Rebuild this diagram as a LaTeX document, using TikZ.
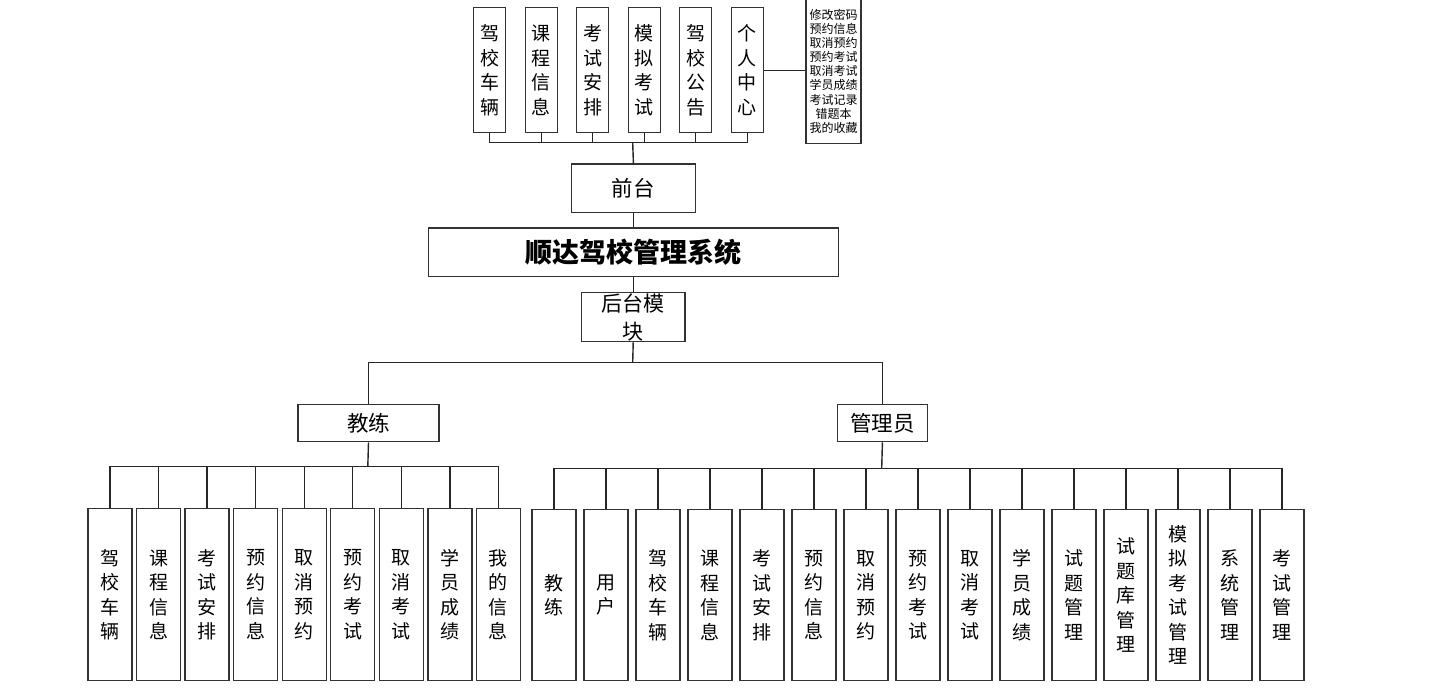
\documentclass[tikz,border=0pt]{standalone}
\usepackage{fontspec}
\newfontfamily\cjk{Noto Sans CJK SC}
\begin{document}
\begin{tikzpicture}[x=1pt,y=-1pt]
\tikzset{
  box/.style={draw=black!80, line width=1.4pt, inner sep=0pt, align=center, anchor=north west,
              font=\cjk\fontsize{19}{24.5}\selectfont},
  ln/.style={draw=black!85, line width=1.4pt}
}
\useasboundingbox (0,0) rectangle (1448,694);
% top row (front-end)
\foreach \t [count=\i from 0] in {{驾\\校\\车\\辆},{课\\程\\信\\息},{考\\试\\安\\排},{模\\拟\\考\\试},{驾\\校\\公\\告},{个\\人\\中\\心}}
  \node[box, minimum width=32pt, minimum height=125pt] (g\i) at ({473+51.5*\i},7) {\t};
\node[box, minimum width=55pt, minimum height=145pt, font=\cjk\fontsize{12}{14.1}\selectfont] (pc) at (805.3,-2)
  {修改密码\\预约信息\\取消预约\\预约考试\\取消考试\\学员成绩\\考试记录\\错题本\\我的收藏};
\node[box, minimum width=124pt, minimum height=48.7pt, font=\cjk\fontsize{21.5}{26}\selectfont] (front) at (570.7,163.3) {前台};
\node[box, minimum width=410pt, minimum height=48.7pt, font=\cjk\bfseries\fontsize{27}{32}\selectfont] (sys) at (428,227.3) {顺达驾校管理系统};
\node[box, minimum width=103.6pt, minimum height=49.3pt, font=\cjk\fontsize{21}{28}\selectfont] (ht) at (580.7,291.7) {后台模\\块};
\node[box, minimum width=141pt, minimum height=37pt, font=\cjk\fontsize{21.5}{26}\selectfont] (jl) at (297.3,404) {教练};
\node[box, minimum width=90pt, minimum height=37pt, font=\cjk\fontsize{21.5}{26}\selectfont] (gl) at (836.7,404) {管理员};
% coach children
\foreach \t [count=\i from 0] in {{驾\\校\\车\\辆},{课\\程\\信\\息},{考\\试\\安\\排},{预\\约\\信\\息},{取\\消\\预\\约},{预\\约\\考\\试},{取\\消\\考\\试},{学\\员\\成\\绩},{我\\的\\信\\息}}
  \node[box, minimum width=44pt, minimum height=172.3pt] (L\i) at ({87.3+48.55*\i},507.7) {\t};
% admin children
\foreach \t [count=\i from 0] in {{教\\练},{用\\户},{驾\\校\\车\\辆},{课\\程\\信\\息},{考\\试\\安\\排},{预\\约\\信\\息},{取\\消\\预\\约},{预\\约\\考\\试},{取\\消\\考\\试},{学\\员\\成\\绩},{试\\题\\管\\理},{试\\题\\库\\管\\理},{模\\拟\\考\\试\\管\\理},{系\\统\\管\\理},{考\\试\\管\\理}}
  \node[box, minimum width=44pt, minimum height=171pt] (R\i) at ({531.3+52*\i},509) {\t};
% connectors
\coordinate (bT) at (632.7,142.7);
\coordinate (bH) at (632.7,362.7);
\coordinate (bJ) at (367.8,466.7);
\coordinate (bG) at (881.7,468.3);
\foreach \i in {0,...,5} \draw[ln] (g\i.south) |- (bT);
\draw[ln] (bT) -- (front.north);
\draw[ln] (g5.east) -- (g5.east -| pc.west);
\draw[ln] (front.south) -- (sys.north -| front.south);
\draw[ln] (sys.south -| ht.north) -- (ht.north);
\draw[ln] (ht.south) -- (bH);
\draw[ln] (jl.north) |- (bH);
\draw[ln] (gl.north) |- (bH);
\draw[ln] (jl.south) -- (bJ);
\foreach \i in {0,...,8} \draw[ln] (L\i.north) |- (bJ);
\draw[ln] (gl.south) -- (bG);
\foreach \i in {0,...,14} \draw[ln] (R\i.north) |- (bG);
\end{tikzpicture}
\end{document}
